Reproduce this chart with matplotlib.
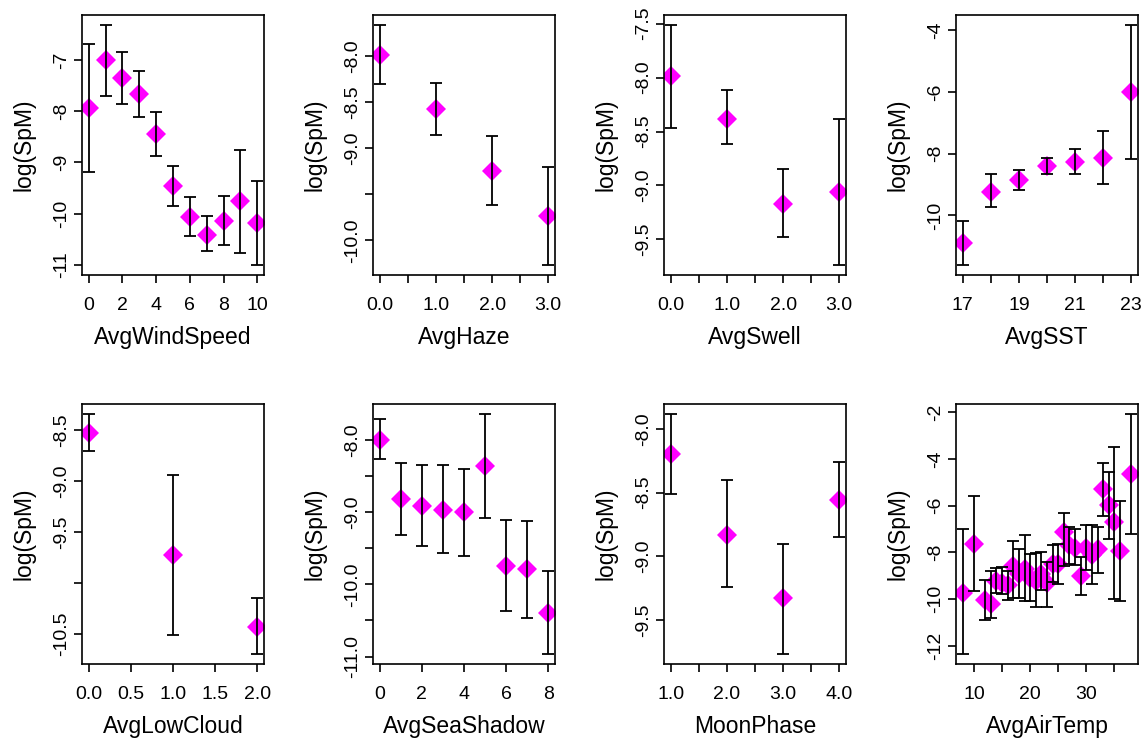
import matplotlib
matplotlib.use('Agg')
import matplotlib.pyplot as plt

plt.rcParams['font.family'] = ['Liberation Sans', 'DejaVu Sans']

# data (mean, lower and upper ends of the error bars)
wind_x = [0, 1, 2, 3, 4, 5, 6, 7, 8, 9, 10]
wind_mean = [-7.93, -7.01, -7.36, -7.66, -8.44, -9.47, -10.06, -10.41, -10.14, -9.76, -10.19]
wind_lo = [-9.18, -7.71, -7.85, -8.12, -8.87, -9.86, -10.44, -10.73, -10.62, -10.77, -11.01]
wind_hi = [-6.69, -6.31, -6.85, -7.22, -8.01, -9.07, -9.68, -10.05, -9.65, -8.76, -9.37]

haze_x = [0, 1, 2, 3]
haze_mean = [-7.99, -8.57, -9.25, -9.73]
haze_lo = [-8.30, -8.86, -9.62, -10.27]
haze_hi = [-7.66, -8.29, -8.87, -9.20]

swell_x = [0, 1, 2, 3]
swell_mean = [-7.99, -8.38, -9.17, -9.06]
swell_lo = [-8.47, -8.62, -9.48, -9.74]
swell_hi = [-7.51, -8.12, -8.85, -8.38]

sst_x = [17, 18, 19, 20, 21, 22, 23]
sst_mean = [-10.91, -9.23, -8.86, -8.40, -8.27, -8.13, -6.00]
sst_lo = [-11.62, -9.72, -9.18, -8.67, -8.67, -8.99, -8.18]
sst_hi = [-10.18, -8.67, -8.51, -8.13, -7.86, -7.26, -3.81]

cloud_x = [0, 1, 2]
cloud_mean = [-8.53, -9.73, -10.43]
cloud_lo = [-8.71, -10.51, -10.70]
cloud_hi = [-8.34, -8.94, -10.15]

shadow_x = [0, 1, 2, 3, 4, 5, 6, 7, 8]
shadow_mean = [-7.99, -8.82, -8.91, -8.97, -9.00, -8.36, -9.75, -9.78, -10.40]
shadow_lo = [-8.26, -9.31, -9.47, -9.57, -9.61, -9.08, -10.37, -10.46, -10.97]
shadow_hi = [-7.71, -8.32, -8.34, -8.34, -8.40, -7.63, -9.10, -9.12, -9.81]

moon_x = [1, 2, 3, 4]
moon_mean = [-8.20, -8.83, -9.33, -8.56]
moon_lo = [-8.51, -9.24, -9.77, -8.85]
moon_hi = [-7.88, -8.40, -8.90, -8.26]

air_x = [8, 10, 12, 13, 14, 15, 16, 17, 18, 19, 20, 21, 22, 23, 24, 25,
         26, 27, 28, 29, 30, 31, 32, 33, 34, 35, 36, 38]
air_mean = [-9.72, -7.63, -10.05, -10.20, -9.20, -9.30, -9.40, -8.60, -8.90, -8.70,
            -9.10, -9.20, -8.90, -9.30, -8.50, -8.50, -7.13, -7.70, -7.80, -9.00,
            -7.80, -8.10, -7.84, -5.30, -5.99, -6.70, -7.94, -4.64]
air_lo = [-12.36, -9.65, -10.90, -10.79, -9.72, -9.79, -10.02, -9.96, -9.93, -10.08,
          -10.08, -10.33, -9.62, -10.33, -9.25, -9.36, -8.58, -8.51, -8.54, -9.82,
          -8.76, -9.34, -8.89, -6.44, -7.44, -9.98, -10.08, -7.19]
air_hi = [-7.01, -5.59, -9.19, -8.79, -8.65, -8.62, -8.79, -7.51, -7.87, -7.26,
          -8.08, -8.01, -7.97, -8.39, -7.68, -7.65, -6.30, -6.91, -7.01, -8.19,
          -6.84, -6.84, -6.91, -4.17, -4.56, -3.48, -5.80, -2.06]

panels = [
    ('AvgWindSpeed', wind_x, wind_mean, wind_lo, wind_hi,
     [0, 2, 4, 6, 8, 10], ['0', '2', '4', '6', '8', '10'],
     [-7, -8, -9, -10, -11], ['-7', '-8', '-9', '-10', '-11']),
    ('AvgHaze', haze_x, haze_mean, haze_lo, haze_hi,
     [0, 0.5, 1, 1.5, 2, 2.5, 3], ['0.0', '', '1.0', '', '2.0', '', '3.0'],
     [-8, -8.5, -9, -9.5, -10], ['-8.0', '-8.5', '-9.0', '', '-10.0']),
    ('AvgSwell', swell_x, swell_mean, swell_lo, swell_hi,
     [0, 0.5, 1, 1.5, 2, 2.5, 3], ['0.0', '', '1.0', '', '2.0', '', '3.0'],
     [-7.5, -8, -8.5, -9, -9.5], ['-7.5', '-8.0', '-8.5', '-9.0', '-9.5']),
    ('AvgSST', sst_x, sst_mean, sst_lo, sst_hi,
     [17, 18, 19, 20, 21, 22, 23], ['17', '', '19', '', '21', '', '23'],
     [-4, -6, -8, -10], ['-4', '-6', '-8', '-10']),
    ('AvgLowCloud', cloud_x, cloud_mean, cloud_lo, cloud_hi,
     [0, 0.5, 1, 1.5, 2], ['0.0', '0.5', '1.0', '1.5', '2.0'],
     [-8.5, -9, -9.5, -10, -10.5], ['-8.5', '-9.0', '-9.5', '', '-10.5']),
    ('AvgSeaShadow', shadow_x, shadow_mean, shadow_lo, shadow_hi,
     [0, 2, 4, 6, 8], ['0', '2', '4', '6', '8'],
     [-8, -8.5, -9, -9.5, -10, -10.5, -11], ['-8.0', '', '-9.0', '', '-10.0', '', '-11.0']),
    ('MoonPhase', moon_x, moon_mean, moon_lo, moon_hi,
     [1, 1.5, 2, 2.5, 3, 3.5, 4], ['1.0', '', '2.0', '', '3.0', '', '4.0'],
     [-8, -8.5, -9, -9.5], ['-8.0', '-8.5', '-9.0', '-9.5']),
    ('AvgAirTemp', air_x, air_mean, air_lo, air_hi,
     [10, 15, 20, 25, 30, 35], ['10', '', '20', '', '30', ''],
     [-2, -4, -6, -8, -10, -12], ['-2', '-4', '-6', '-8', '-10', '-12']),
]

W, H = 1143, 740
fig = plt.figure(figsize=(W / 100, H / 100), dpi=100)

lefts = [82, 373, 664, 956]
tops = [15, 404]
pw, ph = 182, 260

for i, (name, x, m, lo, hi, xt, xtl, yt, ytl) in enumerate(panels):
    left = lefts[i % 4]
    top = tops[i // 4]
    ax = fig.add_axes([left / W, (H - top - ph) / H, pw / W, ph / H])

    ax.plot(x, m, linestyle='none', marker='D', markersize=10,
            color='#ff00ff', markeredgewidth=0, zorder=2)
    yerr = [[a - b for a, b in zip(m, lo)], [b - a for a, b in zip(m, hi)]]
    ax.errorbar(x, m, yerr=yerr, fmt='none', ecolor='black',
                elinewidth=1.3, capsize=4.5, capthick=1.3, zorder=3)
    ax.margins(0.04)

    ax.set_xticks(xt)
    ax.set_xticklabels(xtl)
    ax.set_yticks(yt)
    ax.set_yticklabels(ytl)
    ax.tick_params(length=6, width=1.2, labelsize=14, color='black')
    ax.tick_params(axis='x', pad=10)
    ax.tick_params(axis='y', pad=2.5, labelrotation=90)
    plt.setp(ax.get_yticklabels(), va='center')
    for s in ax.spines.values():
        s.set_linewidth(1.2)

    ax.set_xlabel(name, fontsize=16.5)
    ax.set_ylabel('log(SpM)', fontsize=16.5)
    ax.xaxis.set_label_coords(0.5, -0.195)
    ax.yaxis.set_label_coords(-0.255, 0.5)

plt.savefig('out.png')
